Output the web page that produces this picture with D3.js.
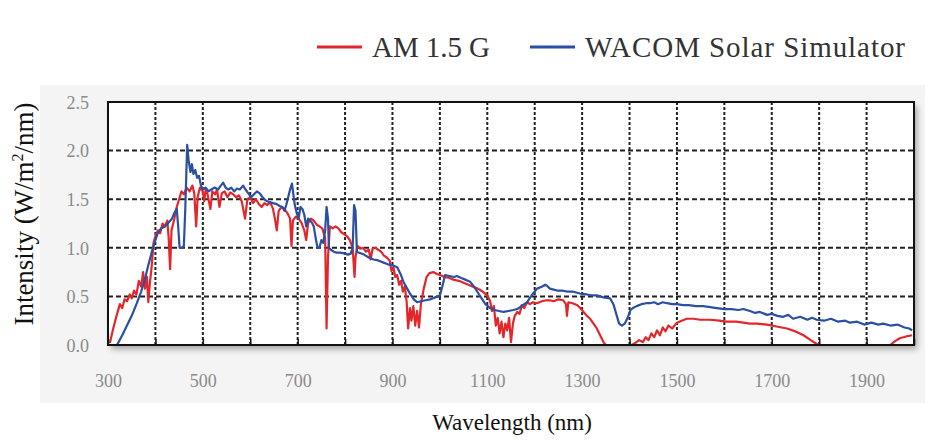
<!DOCTYPE html>
<html>
<head>
<meta charset="utf-8">
<script src="https://cdn.jsdelivr.net/npm/d3@7/dist/d3.min.js"></script>
<style>
  html, body { margin: 0; padding: 0; background: #ffffff; }
  svg { display: block; }
</style>
</head>
<body>
<svg id="chart" width="933" height="442"></svg>
<script>
// AM 1.5G reference spectrum (wavelength in nm, intensity in W/m²/nm)
const amWavelength = [304,310,318,325,330,335,340,346,350,355,360,365,370,374,378,382,385,388,392,396,400,405,410,415,420,425,428,431,434,440,445,450,455,460,466,472,478,482,486,489,494,500,503,506,510,516,520,526,530,535,540,546,552,558,564,570,576,582,589,594,600,606,612,618,624,630,636,642,648,652,656,660,666,672,678,684,687,690,696,702,708,714,718,722,728,734,740,746,752,758,761,764,768,774,780,786,792,798,804,810,816,820,822,826,832,838,844,850,854,858,864,870,876,882,888,894,898,902,906,910,914,918,922,926,930,933,937,940,944,948,952,956,960,966,972,978,986,994,1000,1010,1020,1030,1040,1050,1060,1070,1080,1090,1100,1106,1110,1114,1118,1122,1126,1130,1134,1138,1142,1146,1150,1154,1158,1163,1168,1173,1178,1184,1190,1196,1205,1215,1225,1232,1240,1250,1260,1266,1268,1271,1280,1290,1296,1303,1310,1317,1324,1331,1338,1345,1350,1405,1412,1420,1428,1434,1440,1446,1452,1458,1464,1470,1476,1482,1490,1500,1510,1521,1535,1549,1570,1590,1605,1625,1640,1654,1670,1690,1710,1732,1750,1767,1782,1795,1800,1950,1960,1970,1985,1996];
const amIntensity = [0.02,0.15,0.30,0.42,0.38,0.47,0.45,0.52,0.48,0.56,0.52,0.66,0.60,0.75,0.58,0.70,0.44,0.62,0.80,1.05,1.12,1.18,1.15,1.25,1.22,1.28,1.10,0.78,1.18,1.30,1.42,1.50,1.58,1.55,1.62,1.58,1.64,1.56,1.22,1.52,1.62,1.58,1.48,1.60,1.55,1.40,1.58,1.55,1.60,1.42,1.56,1.58,1.52,1.57,1.55,1.52,1.54,1.48,1.30,1.50,1.52,1.46,1.50,1.45,1.42,1.46,1.44,1.47,1.40,1.30,1.18,1.38,1.42,1.40,1.36,1.30,1.02,1.28,1.32,1.30,1.26,1.18,1.08,1.25,1.30,1.28,1.24,1.22,1.20,1.10,0.17,0.90,1.22,1.20,1.22,1.20,1.16,1.14,1.12,1.08,1.00,0.70,0.90,1.02,0.99,1.00,0.96,0.98,0.88,0.99,1.00,0.98,0.96,0.92,0.90,0.87,0.76,0.80,0.70,0.72,0.62,0.66,0.55,0.60,0.44,0.17,0.38,0.25,0.40,0.20,0.35,0.18,0.42,0.58,0.70,0.74,0.75,0.73,0.72,0.70,0.69,0.67,0.66,0.64,0.62,0.60,0.58,0.55,0.51,0.45,0.35,0.40,0.20,0.28,0.12,0.24,0.08,0.22,0.15,0.28,0.03,0.22,0.30,0.34,0.32,0.41,0.38,0.44,0.42,0.44,0.43,0.45,0.46,0.46,0.45,0.47,0.46,0.42,0.30,0.44,0.43,0.41,0.38,0.34,0.30,0.27,0.22,0.17,0.10,0.03,0.00,0.00,0.02,0.05,0.03,0.08,0.05,0.12,0.08,0.15,0.10,0.18,0.14,0.20,0.17,0.23,0.25,0.27,0.27,0.26,0.26,0.25,0.24,0.24,0.23,0.22,0.22,0.21,0.19,0.17,0.14,0.10,0.05,0.01,0.00,0.00,0.04,0.07,0.09,0.10];

// WACOM solar simulator output
const wacomWavelength = [319,330,340,350,360,370,378,385,392,398,405,412,420,428,435,440,445,448,451,456,460,463,467,470,474,477,480,484,488,492,496,500,506,512,518,525,532,538,543,548,554,560,566,572,578,585,590,596,602,608,614,620,626,632,640,648,656,662,668,672,676,680,684,688,691,694,698,702,706,710,714,718,722,726,730,734,738,742,746,750,754,758,761,764,766,770,776,782,790,800,806,812,816,819,822,825,830,840,850,860,870,880,890,900,910,918,924,931,938,945,952,960,970,980,990,1000,1005,1011,1020,1030,1036,1045,1055,1064,1072,1080,1088,1096,1106,1115,1125,1134,1145,1155,1163,1172,1184,1195,1205,1215,1222,1226,1232,1240,1247,1258,1268,1280,1295,1310,1320,1331,1345,1359,1366,1372,1378,1384,1390,1396,1402,1407,1415,1425,1435,1443,1452,1460,1470,1479,1490,1500,1513,1525,1540,1555,1570,1584,1600,1615,1630,1640,1654,1665,1675,1690,1700,1712,1724,1735,1745,1760,1775,1785,1795,1810,1825,1840,1855,1865,1880,1895,1910,1925,1935,1950,1965,1980,1990,1996];
const wacomIntensity = [0.00,0.10,0.20,0.30,0.42,0.55,0.68,0.82,0.95,1.05,1.15,1.20,1.22,1.26,1.30,1.36,1.40,1.22,1.00,1.00,1.02,1.40,2.06,1.90,1.78,1.86,1.76,1.80,1.72,1.74,1.64,1.60,1.62,1.58,1.60,1.62,1.60,1.64,1.67,1.62,1.60,1.62,1.58,1.61,1.60,1.64,1.60,1.56,1.52,1.55,1.58,1.56,1.52,1.49,1.47,1.46,1.45,1.43,1.42,1.38,1.44,1.52,1.60,1.66,1.55,1.44,1.36,1.30,1.42,1.40,1.34,1.22,1.30,1.28,1.26,1.22,1.10,1.00,1.00,1.08,1.05,1.18,1.42,1.30,1.00,0.98,0.96,0.95,0.95,0.94,0.93,0.94,1.00,1.44,1.38,0.96,0.95,0.93,0.90,0.88,0.87,0.85,0.83,0.82,0.80,0.72,0.64,0.58,0.52,0.47,0.44,0.45,0.46,0.47,0.49,0.51,0.60,0.72,0.71,0.70,0.71,0.69,0.67,0.65,0.60,0.54,0.48,0.42,0.38,0.36,0.35,0.34,0.35,0.36,0.37,0.40,0.44,0.52,0.58,0.60,0.62,0.61,0.58,0.57,0.56,0.56,0.55,0.55,0.53,0.52,0.51,0.51,0.49,0.48,0.42,0.32,0.22,0.20,0.22,0.28,0.36,0.38,0.40,0.42,0.43,0.43,0.44,0.42,0.44,0.43,0.42,0.42,0.41,0.41,0.40,0.40,0.39,0.38,0.37,0.37,0.36,0.37,0.35,0.33,0.34,0.31,0.32,0.30,0.29,0.31,0.27,0.29,0.26,0.28,0.26,0.25,0.27,0.24,0.25,0.23,0.24,0.21,0.23,0.21,0.22,0.20,0.21,0.18,0.17,0.15];

const xTickValues = [300,500,700,900,1100,1300,1500,1700,1900];
const yTickValues = [0.0,0.5,1.0,1.5,2.0,2.5];
const seriesNames = ["AM 1.5 G", "WACOM Solar Simulator"];
const seriesColors = ["#e3262c", "#2b4fa2"];

const svg = d3.select("#chart");
const plot = { left: 108, right: 914, top: 102, bottom: 345 };

const x = d3.scaleLinear().domain([300, 2000]).range([plot.left, plot.right]);
const y = d3.scaleLinear().domain([0, 2.5]).range([plot.bottom, plot.top]);

// soft drop shadow under the plotting frame
const defs = svg.append("defs");
const shadow = defs.append("filter").attr("id", "frameShadow")
  .attr("x", "-5%").attr("y", "-5%").attr("width", "115%").attr("height", "125%");
shadow.append("feDropShadow").attr("dx", 3).attr("dy", 4).attr("stdDeviation", 3)
  .attr("flood-color", "#000").attr("flood-opacity", 0.35);
defs.append("clipPath").attr("id", "plotClip").append("rect")
  .attr("x", plot.left).attr("y", plot.top - 1)
  .attr("width", plot.right - plot.left).attr("height", plot.bottom - plot.top + 2);

// light grey panel holding the axes
svg.append("rect").attr("x", 40).attr("y", 85).attr("width", 885).attr("height", 318)
  .attr("fill", "#f4f4f4");

// white plotting area with shadow
svg.append("rect")
  .attr("x", plot.left).attr("y", plot.top)
  .attr("width", plot.right - plot.left).attr("height", plot.bottom - plot.top)
  .attr("fill", "#fff").attr("filter", "url(#frameShadow)");

// dashed grid every 100 nm and every 0.5 W/m²/nm
const xGrid = d3.range(400, 2000, 100);
svg.append("g").selectAll("line").data(xGrid).join("line")
  .attr("x1", d => x(d)).attr("x2", d => x(d))
  .attr("y1", plot.top).attr("y2", plot.bottom)
  .attr("stroke", "#222").attr("stroke-width", 2).attr("stroke-dasharray", "3,2");
svg.append("g").selectAll("line").data(yTickValues.slice(1, -1)).join("line")
  .attr("x1", plot.left).attr("x2", plot.right)
  .attr("y1", d => y(d)).attr("y2", d => y(d))
  .attr("stroke", "#222").attr("stroke-width", 2).attr("stroke-dasharray", "5,3");

// spectra
const line = d3.line().x(d => x(d[0])).y(d => y(d[1]));
const amPoints = d3.zip(amWavelength, amIntensity);
const wacomPoints = d3.zip(wacomWavelength, wacomIntensity);
const lines = svg.append("g").attr("clip-path", "url(#plotClip)");
lines.append("path").datum(amPoints).attr("d", line)
  .attr("fill", "none").attr("stroke", seriesColors[0]).attr("stroke-width", 2.2)
  .attr("stroke-linejoin", "round");
lines.append("path").datum(wacomPoints).attr("d", line)
  .attr("fill", "none").attr("stroke", seriesColors[1]).attr("stroke-width", 2.2)
  .attr("stroke-linejoin", "round");

// inward tick marks on the bottom edge
svg.append("g").attr("transform", `translate(0,${plot.bottom})`)
  .call(d3.axisBottom(x).tickValues(d3.range(300, 2001, 100)).tickSize(-6).tickFormat(""))
  .call(g => g.select(".domain").remove())
  .call(g => g.selectAll(".tick line").attr("stroke", "#111").attr("stroke-width", 1.5));

// frame
svg.append("rect")
  .attr("x", plot.left).attr("y", plot.top)
  .attr("width", plot.right - plot.left).attr("height", plot.bottom - plot.top)
  .attr("fill", "none").attr("stroke", "#111").attr("stroke-width", 2);

// tick labels
const tickFont = "'Liberation Serif', 'DejaVu Serif', serif";
svg.append("g").attr("transform", `translate(0,${plot.bottom + 26})`)
  .call(d3.axisBottom(x).tickValues(xTickValues).tickSize(0).tickFormat(d3.format("d")))
  .call(g => g.select(".domain").remove())
  .call(g => g.selectAll("text").attr("fill", "#8a8a8a").attr("font-size", 18)
    .attr("font-family", tickFont));
svg.append("g").attr("transform", `translate(${plot.left - 16},0)`)
  .call(d3.axisLeft(y).tickValues(yTickValues).tickSize(0).tickFormat(d3.format(".1f")))
  .call(g => g.select(".domain").remove())
  .call(g => g.selectAll("text").attr("fill", "#8a8a8a").attr("font-size", 18)
    .attr("font-family", tickFont).attr("dy", "0.35em"));

// axis titles
const titleFont = "'Liberation Serif', 'Times New Roman', serif";
svg.append("text").attr("x", 512).attr("y", 430).attr("text-anchor", "middle")
  .attr("font-family", titleFont).attr("font-size", 23).attr("fill", "#111")
  .text("Wavelength (nm)");
const yTitle = svg.append("text")
  .attr("transform", "translate(33,214) rotate(-90)")
  .attr("text-anchor", "middle").attr("font-family", titleFont)
  .attr("font-size", 27).attr("fill", "#111");
yTitle.append("tspan").text("Intensity (W/m");
yTitle.append("tspan").attr("font-size", 16).attr("dy", -10).text("2");
yTitle.append("tspan").attr("dy", 10).text("/nm)");

// legend
const legendItems = [
  { name: seriesNames[0], color: seriesColors[0], x: 317, textX: 372, width: 118 },
  { name: seriesNames[1], color: seriesColors[1], x: 530, textX: 585, width: 320 }
];
const legend = svg.append("g");
legend.selectAll("line").data(legendItems).join("line")
  .attr("x1", d => d.x).attr("x2", d => d.x + 45)
  .attr("y1", 47).attr("y2", 47)
  .attr("stroke", d => d.color).attr("stroke-width", 3);
legend.selectAll("text").data(legendItems).join("text")
  .attr("x", d => d.textX).attr("y", 57)
  .attr("font-family", titleFont).attr("font-size", 29).attr("fill", "#333")
  .attr("textLength", d => d.width).attr("lengthAdjust", "spacing")
  .text(d => d.name);
</script>
</body>
</html>
